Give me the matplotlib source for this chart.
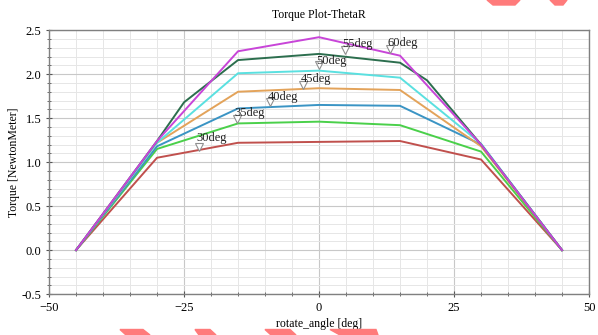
import numpy as np
import matplotlib
matplotlib.use("Agg")
import matplotlib.pyplot as plt
from matplotlib.patches import Polygon
from matplotlib.ticker import MultipleLocator

plt.rcParams["font.family"] = ["Liberation Serif", "DejaVu Serif"]

# torque curves, one per theta setting
labels = ["30deg", "35deg", "40deg", "45deg", "50deg", "55deg", "60deg"]
angles_std = [-45, -30, -15, 0, 15, 30, 45]
angles_55 = [-45, -30, -25, -15, 0, 15, 20, 30, 45]

torque_30 = [0.0, 1.05, 1.22, 1.23, 1.24, 1.03, 0.0]
torque_35 = [0.0, 1.15, 1.44, 1.46, 1.42, 1.12, 0.0]
torque_40 = [0.0, 1.18, 1.61, 1.65, 1.64, 1.20, 0.0]
torque_45 = [0.0, 1.22, 1.80, 1.84, 1.82, 1.18, 0.0]
torque_50 = [0.0, 1.22, 2.01, 2.04, 1.96, 1.21, 0.0]
torque_55 = [0.0, 1.24, 1.68, 2.16, 2.23, 2.13, 1.93, 1.20, 0.0]
torque_60 = [0.0, 1.24, 2.26, 2.42, 2.21, 1.20, 0.0]

series = [
    (angles_std, torque_30, "#c0504d"),
    (angles_std, torque_35, "#4ad04a"),
    (angles_std, torque_40, "#3a94c4"),
    (angles_std, torque_45, "#e3a35a"),
    (angles_std, torque_50, "#5ae0e0"),
    (angles_55, torque_55, "#2c6e4e"),
    (angles_std, torque_60, "#c845d8"),
]

# label markers and text spots
mark_x = [-22.3, -15.1, -9.1, -3.0, 0.0, 4.9, 13.1]
mark_y = [1.17, 1.49, 1.68, 1.88, 2.10, 2.28, 2.29]
text_x = [-22.8, -15.7, -9.5, -3.4, -0.6, 4.3, 12.6]
text_y = [1.27, 1.56, 1.74, 1.95, 2.15, 2.34, 2.35]

fig = plt.figure(figsize=(5.98, 3.35), dpi=100)
ax = fig.add_axes([0.082, 0.122, 0.903, 0.788])

for xs, ys, c in series:
    ax.plot(xs, ys, color=c, linewidth=1.4, zorder=3)

ax.plot(mark_x, mark_y, linestyle="none", marker="v", markersize=6,
        markerfacecolor="white", markeredgecolor="#909090",
        markeredgewidth=0.8, zorder=4)
for lab, tx, ty in zip(labels, text_x, text_y):
    ax.text(tx, ty, lab, fontsize=9, ha="left", va="center", color="#222", zorder=5)

ax.set_xlim(-50, 50)
ax.set_ylim(-0.5, 2.5)
ax.xaxis.set_major_locator(MultipleLocator(25))
ax.xaxis.set_minor_locator(MultipleLocator(5))
ax.yaxis.set_major_locator(MultipleLocator(0.5))
ax.yaxis.set_minor_locator(MultipleLocator(0.1))
ax.yaxis.set_major_formatter(plt.FuncFormatter(lambda v, p: f"{v:.1f}"))

ax.grid(which="major", color="#c8c8c8", linewidth=0.8)
ax.grid(which="minor", color="#e6e6e6", linewidth=0.7)
ax.set_axisbelow(True)

ax.tick_params(which="major", direction="inout", length=5, width=0.8,
               color="#555", labelsize=9, pad=3)
ax.tick_params(which="minor", direction="inout", length=3, width=0.6, color="#555")
for s in ax.spines.values():
    s.set_color("#808080")
    s.set_linewidth(1.0)

ax.set_title("Torque Plot-ThetaR", fontsize=8.5, pad=9)
ax.set_xlabel("rotate_angle [deg]", fontsize=8.5, labelpad=3)
ax.set_ylabel("Torque [NewtonMeter]", fontsize=8.5, labelpad=1)

# red watermark slivers at the edges of the image
W, H = 598, 335
shapes = [
    [(120, 329.5), (143, 329.5), (150, 335), (126, 335)],
    [(195, 329.5), (210, 329.5), (216, 335), (199, 335)],
    [(265, 329.5), (290, 329.5), (296, 335), (271, 335)],
    [(330, 329.5), (376, 329.5), (378, 335), (340, 335)],
    [(487, 0), (520, 0), (515, 5), (493, 5)],
    [(550, 0), (567, 0), (563, 5), (555, 5)],
]
for pts in shapes:
    fig.patches.append(Polygon([(x / W, 1 - y / H) for x, y in pts], closed=True,
                               transform=fig.transFigure, color="#ff7b7b",
                               zorder=10))

fig.savefig("out.png", dpi=100)
